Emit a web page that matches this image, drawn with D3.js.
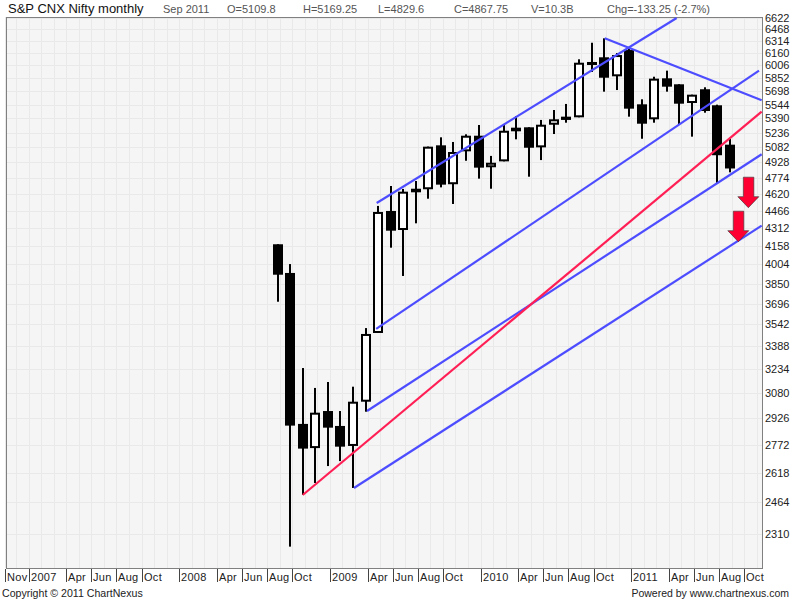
<!DOCTYPE html>
<html>
<head>
<meta charset="utf-8">
<style>
  body { margin: 0; background: #fff; }
  text { font-family: "Liberation Sans", Arial, sans-serif; }
</style>
<script src="https://cdn.jsdelivr.net/npm/d3@7"></script>
</head>
<body>
<div id="chart"></div>
<script>
// Month number of each candle, counted from Jan 2007 = 0
const months = [20, 21, 22, 23, 24, 25, 26, 27, 28, 29, 30, 31, 32, 33, 34, 35, 36, 37, 38,
  39, 40, 41, 42, 43, 44, 45, 46, 47, 48, 49, 50, 51, 52, 53, 54, 55, 56];
const opens = [4171, 3934, 2892, 2753, 2969, 2880, 2765, 3026, 3481, 4464, 4294, 4637, 4666,
  5103, 4714, 5041, 5204, 4880, 4939, 5251, 5294, 5082, 5322, 5374, 5403, 6048, 6106, 5874,
  6197, 5548, 5381, 5850, 5779, 5563, 5721, 5537, 5109.8];
const highs = [4171, 4006, 3241, 3112, 3150, 2969, 3120, 3516, 4510, 4697, 4669, 4745, 5090,
  5187, 5138, 5219, 5319, 4994, 5330, 5417, 5294, 5374, 5484, 5552, 6081, 6290, 6347, 6160,
  6232, 5605, 5869, 5942, 5779, 5658, 5744, 5544, 5169.25];
const lows = [3710, 2252, 2502, 2564, 2654, 2681, 2538, 2965, 3481, 4142, 3910, 4353, 4577,
  4684, 4528, 4945, 4768, 4671, 4939, 5166, 4787, 4952, 5222, 5344, 5403, 5926, 5693, 5712,
  5410, 5172, 5344, 5693, 5330, 5194, 5454, 4723, 4829.6];
const closes = [3920, 2882, 2750, 2959, 2870, 2761, 3026, 3474, 4455, 4288, 4643, 4671, 5089,
  4710, 5034, 5204, 4876, 4925, 5257, 5290, 5078, 5322, 5381, 5410, 6039, 6023, 5857, 6134,
  5499, 5333, 5846, 5751, 5555, 5658, 5473, 5001, 4867.75];

// Axis labels
const priceTicks = [2310, 2464, 2618, 2772, 2926, 3080, 3234, 3388, 3542, 3696, 3850, 4004,
  4158, 4312, 4466, 4620, 4774, 4928, 5082, 5236, 5390, 5544, 5698, 5852, 6006, 6160, 6314,
  6468, 6622];
const monthTicks = [-2, 0, 3, 5, 7, 9, 12, 15, 17, 19, 21, 24, 27, 29, 31, 33, 36, 39, 41, 43,
  45, 48, 51, 53, 55, 57];
const monthLabels = ['Nov', '2007', 'Apr', 'Jun', 'Aug', 'Oct', '2008', 'Apr', 'Jun', 'Aug',
  'Oct', '2009', 'Apr', 'Jun', 'Aug', 'Oct', '2010', 'Apr', 'Jun', 'Aug', 'Oct', '2011', 'Apr',
  'Jun', 'Aug', 'Oct'];

// Hand drawn trend lines: start month, start price, end month, end price
const trendNames = ['upperChannel', 'middleChannel', 'lowerChannel', 'bottomChannel', 'redTrend', 'downTrend'];
const trendStartMonth = [27.89, 27.85, 27.12, 26.08, 22, 46.05];
const trendStartPrice = [4537, 3510, 2969, 2538, 2502, 6347];
const trendEndMonth = [51.78, 58.34, 58.55, 58.55, 58.55, 58.55];
const trendEndPrice = [6615, 5942, 5011, 4332, 5465, 5594];

// Red arrows, tip position
const arrowMonth = [57.49, 56.69];
const arrowPrice = [4494, 4193];

// Header texts
const headerLabels = ['Sep 2011', 'O=5109.8', 'H=5169.25', 'L=4829.6', 'C=4867.75', 'V=10.3B', 'Chg=-133.25 (-2.7%)'];
const headerPos = [163, 227, 303, 378, 454, 531, 607];

const width = 800;
const height = 600;
const plot = { left: 6, right: 762, top: 17, bottom: 568 };

const svg = d3.select('#chart')
  .append('svg')
  .attr('width', width)
  .attr('height', height)
  .style('display', 'block');

// Scales: months are linear, prices are on a log axis
const xScale = d3.scaleLinear().domain([0, 57]).range([28.5, 744.2]);
const yScale = d3.scaleLog().domain([2156, 6622]).range([568, 17.5]);

// Candles sit slightly left of their month tick
const candleX = m => xScale(m) - 2;

// Plot background
svg.append('rect')
  .attr('x', plot.left)
  .attr('y', plot.top)
  .attr('width', plot.right - plot.left)
  .attr('height', plot.bottom - plot.top)
  .attr('fill', '#f5f5f5');

// Grid lines, one for every month and one for every price tick
svg.append('g')
  .selectAll('line')
  .data(d3.range(-2, 59))
  .enter()
  .append('line')
  .attr('x1', d => Math.round(Math.max(xScale(d), 4.6)) + 0.5)
  .attr('x2', d => Math.round(Math.max(xScale(d), 4.6)) + 0.5)
  .attr('y1', plot.top)
  .attr('y2', plot.bottom)
  .attr('stroke', '#e9e9e9');

svg.append('g')
  .selectAll('line')
  .data(priceTicks)
  .enter()
  .append('line')
  .attr('x1', plot.left)
  .attr('x2', plot.right)
  .attr('y1', d => Math.round(yScale(d)) + 0.5)
  .attr('y2', d => Math.round(yScale(d)) + 0.5)
  .attr('stroke', '#e9e9e9');

// Plot border
svg.append('rect')
  .attr('x', plot.left + 0.5)
  .attr('y', plot.top + 0.5)
  .attr('width', plot.right - plot.left)
  .attr('height', plot.bottom - plot.top)
  .attr('fill', 'none')
  .attr('stroke', '#808080');

// Candles
const candles = svg.append('g')
  .selectAll('g')
  .data(months.map((m, i) => i))
  .enter()
  .append('g');

candles.append('rect')
  .attr('x', i => Math.round(candleX(months[i])) - 1)
  .attr('y', i => yScale(highs[i]))
  .attr('width', 2)
  .attr('height', i => yScale(lows[i]) - yScale(highs[i]))
  .attr('fill', '#000');

candles.append('rect')
  .attr('x', i => Math.round(candleX(months[i])) - 4)
  .attr('y', i => yScale(Math.max(opens[i], closes[i])) + 1)
  .attr('width', 8)
  .attr('height', i => Math.max(yScale(Math.min(opens[i], closes[i])) - yScale(Math.max(opens[i], closes[i])) - 2, 1))
  .attr('fill', i => closes[i] >= opens[i] ? '#fff' : '#000')
  .attr('stroke', '#000')
  .attr('stroke-width', 2);

// Trend lines
svg.append('g')
  .selectAll('line')
  .data(trendNames.map((n, i) => i))
  .enter()
  .append('line')
  .attr('x1', i => candleX(trendStartMonth[i]))
  .attr('y1', i => yScale(trendStartPrice[i]))
  .attr('x2', i => candleX(trendEndMonth[i]))
  .attr('y2', i => yScale(trendEndPrice[i]))
  .attr('stroke', i => trendNames[i] === 'redTrend' ? '#ff1f55' : '#4d4dff')
  .attr('stroke-width', 2.2);

// Red arrows, the path is drawn around the tip
svg.append('g')
  .selectAll('path')
  .data(arrowMonth.map((m, i) => i))
  .enter()
  .append('path')
  .attr('transform', i => `translate(${candleX(arrowMonth[i])},${yScale(arrowPrice[i])})`)
  .attr('d', 'M0,0 L-10.5,-11 L-5,-11 L-5,-30.5 L5.5,-30.5 L5.5,-11 L10.5,-11 Z')
  .attr('fill', '#ff0033')
  .attr('stroke', '#333')
  .attr('stroke-width', 0.6);

// Price labels
svg.append('g')
  .selectAll('text')
  .data(priceTicks)
  .enter()
  .append('text')
  .attr('x', 765)
  .attr('y', d => yScale(d) + 4)
  .style('font-size', '11px')
  .attr('fill', '#222')
  .text(d => d);

// Month ticks and labels
const tickX = m => Math.round(Math.max(xScale(m), 4.6)) + 0.5;

svg.append('g')
  .selectAll('line')
  .data(monthTicks)
  .enter()
  .append('line')
  .attr('x1', tickX)
  .attr('x2', tickX)
  .attr('y1', 569)
  .attr('y2', 582)
  .attr('stroke', '#444');

svg.append('g')
  .selectAll('text')
  .data(monthTicks)
  .enter()
  .append('text')
  .attr('x', d => tickX(d) + 1.5)
  .attr('y', 581)
  .style('font-size', '11px')
  .style('letter-spacing', '0.3px')
  .attr('fill', '#222')
  .text((d, i) => monthLabels[i]);

// Title and header values
svg.append('text')
  .attr('x', 8)
  .attr('y', 13)
  .style('font-size', '13px')
  .attr('fill', '#111')
  .text('S&P CNX Nifty monthly');

svg.append('g')
  .selectAll('text')
  .data(headerLabels)
  .enter()
  .append('text')
  .attr('x', (d, i) => headerPos[i])
  .attr('y', 13)
  .style('font-size', '11px')
  .attr('fill', '#555')
  .text(d => d);

// Footer
svg.append('text')
  .attr('x', 2)
  .attr('y', 597)
  .style('font-size', '10.6px')
  .attr('fill', '#222')
  .text('Copyright © 2011 ChartNexus');

svg.append('text')
  .attr('x', 789)
  .attr('y', 597)
  .attr('text-anchor', 'end')
  .style('font-size', '10.5px')
  .attr('fill', '#222')
  .text('Powered by www.chartnexus.com');
</script>
</body>
</html>
